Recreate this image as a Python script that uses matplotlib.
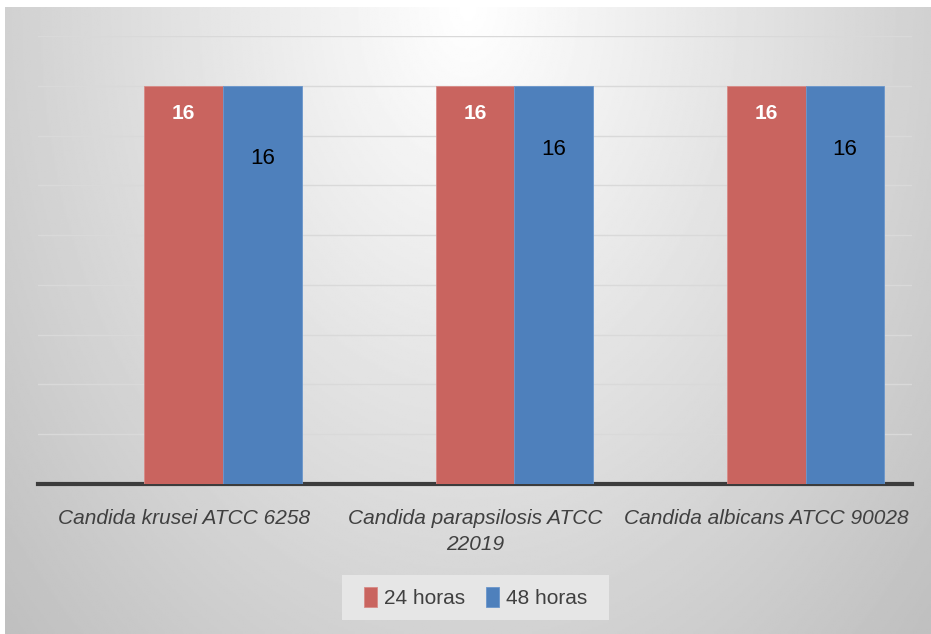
import matplotlib
matplotlib.use('Agg')
from matplotlib import pyplot as plt
from matplotlib.patches import Rectangle
import numpy as np

categories = ['Candida krusei ATCC 6258',
              'Candida parapsilosis ATCC\n22019',
              'Candida albicans ATCC 90028']
series_names = ['24 horas', '48 horas']
vals_24 = [16, 16, 16]
vals_48 = [16, 16, 16]

RED = '#c9645f'
BLUE = '#4e80bc'
FONT = ['Liberation Sans', 'DejaVu Sans']

plt.rcParams['font.family'] = FONT

fig = plt.figure(figsize=(9.31, 6.34), dpi=100)
fig.patch.set_facecolor('white')

# panel with a soft radial gradient, lighter at top centre
bg = fig.add_axes([5 / 931, 0, 926 / 931, 627 / 634])
yy, xx = np.mgrid[0:1:300j, -1:1:600j]
r = np.sqrt((xx / 1.1) ** 2 + (yy / 1.15) ** 2)
shade = 1.0 - 0.2 * np.clip(r, 0, 1.25)
bg.imshow(shade, cmap='gray', vmin=0, vmax=1, aspect='auto',
          extent=[0, 1, 0, 1], origin='upper')
bg.set_axis_off()

ax = fig.add_axes([38 / 931, 150 / 634, 874 / 931, 448 / 634])
ax.patch.set_alpha(0)

x = np.arange(len(categories))
w = 0.27
# excel layout: first series sits on the category centre
b1 = ax.bar(x, vals_24, w, color=RED, edgecolor='#d88a86', linewidth=0.6,
            label=series_names[0], zorder=3)
b2 = ax.bar(x + w, vals_48, w, color=BLUE, edgecolor='#6a96cc', linewidth=0.6,
            label=series_names[1], zorder=3)

ax.set_xlim(-0.5, 2.5)
ax.set_ylim(0, 18)
ax.set_yticks(np.arange(2, 19, 2))
ax.yaxis.grid(True, color='#d9d9d9', linewidth=1)
ax.set_axisbelow(True)
ax.tick_params(axis='y', left=False, labelleft=False)
ax.tick_params(axis='x', length=0, pad=18)
ax.set_xticks(x)
ax.set_xticklabels(categories, fontsize=15, style='italic', color='#404040',
                   linespacing=1.45)
for s in ['top', 'right', 'left']:
    ax.spines[s].set_visible(False)
ax.spines['bottom'].set_color('#3c3c3c')
ax.spines['bottom'].set_linewidth(3)

# data labels
blue_drop = [-52, -46, -46]
for i, rect in enumerate(b1):
    ax.annotate(str(vals_24[i]), (rect.get_x() + rect.get_width() / 2, vals_24[i]),
                xytext=(0, -20), textcoords='offset points', ha='center', va='center',
                color='white', fontsize=15, fontweight='bold')
for i, rect in enumerate(b2):
    ax.annotate(str(vals_48[i]), (rect.get_x() + rect.get_width() / 2, vals_48[i]),
                xytext=(0, blue_drop[i]), textcoords='offset points', ha='center',
                va='center', color='black', fontsize=16)

# legend box drawn separately so it can be wider than the entries
fig.patches.append(Rectangle((342 / 931, 14 / 634), 267 / 931, 45 / 634,
                             transform=fig.transFigure, facecolor='#e6e6e6',
                             edgecolor='none', zorder=1))
leg = fig.legend(handles=[b1, b2], loc='center', bbox_to_anchor=(0.511, 0.058), ncol=2,
                 fontsize=15, frameon=False, handlelength=0.6,
                 handleheight=1.1, handletextpad=0.35, columnspacing=1.0,
                 borderaxespad=0)
for t in leg.get_texts():
    t.set_color('#404040')

fig.savefig('out.png', dpi=100)
